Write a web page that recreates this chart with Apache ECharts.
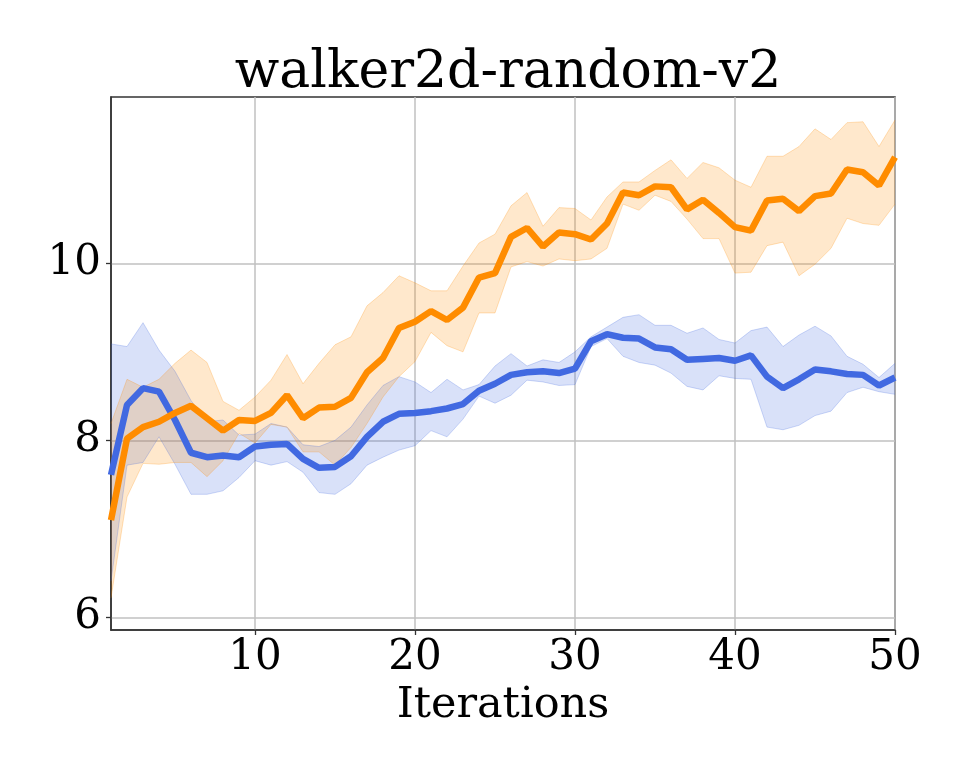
<!DOCTYPE html>
<html>
<head>
<meta charset="utf-8">
<title>walker2d-random-v2</title>
<script src="https://cdn.jsdelivr.net/npm/echarts@6/dist/echarts.min.js"></script>
<style>
  html, body { margin: 0; padding: 0; background: #fff; }
  #chart { width: 969px; height: 775px; }
</style>
</head>
<body>
<div id="chart"></div>
<script>
// iterations on the x axis
const iterations = [1, 2, 3, 4, 5, 6, 7, 8, 9, 10, 11, 12, 13, 14, 15, 16, 17, 18, 19, 20,
  21, 22, 23, 24, 25, 26, 27, 28, 29, 30, 31, 32, 33, 34, 35, 36, 37, 38, 39, 40,
  41, 42, 43, 44, 45, 46, 47, 48, 49, 50];
const xTickLabels = [10, 20, 30, 40, 50];
const yTickLabels = [6, 8, 10];

// blue run: mean and shaded band
const blueMean = [7.61, 8.40, 8.59, 8.55, 8.23, 7.86, 7.81, 7.83, 7.81, 7.93,
  7.95, 7.96, 7.79, 7.69, 7.70, 7.82, 8.04, 8.21, 8.30, 8.31,
  8.33, 8.36, 8.41, 8.56, 8.64, 8.74, 8.77, 8.78, 8.76, 8.81,
  9.12, 9.20, 9.16, 9.15, 9.05, 9.03, 8.91, 8.92, 8.93, 8.90,
  8.96, 8.72, 8.59, 8.69, 8.80, 8.78, 8.75, 8.74, 8.62, 8.71];
const blueUpper = [9.09, 9.06, 9.33, 9.02, 8.78, 8.45, 8.21, 8.23, 8.06, 8.07,
  8.19, 8.15, 7.95, 7.93, 8.00, 8.15, 8.40, 8.62, 8.72, 8.66,
  8.54, 8.69, 8.57, 8.63, 8.84, 8.98, 8.84, 8.91, 8.88, 9.00,
  9.17, 9.28, 9.39, 9.42, 9.30, 9.30, 9.21, 9.27, 9.14, 9.10,
  9.24, 9.28, 9.06, 9.19, 9.29, 9.18, 8.95, 8.86, 8.71, 8.87];
const blueLower = [6.41, 7.72, 7.75, 8.04, 7.73, 7.39, 7.39, 7.43, 7.58, 7.77,
  7.72, 7.76, 7.64, 7.41, 7.39, 7.51, 7.72, 7.81, 7.89, 7.94,
  8.11, 8.04, 8.24, 8.50, 8.42, 8.51, 8.68, 8.66, 8.62, 8.63,
  9.06, 9.15, 8.95, 8.88, 8.85, 8.76, 8.61, 8.57, 8.73, 8.70,
  8.69, 8.15, 8.12, 8.17, 8.28, 8.33, 8.54, 8.60, 8.55, 8.52];

// orange run: mean and shaded band
const orangeMean = [7.10, 8.02, 8.15, 8.21, 8.31, 8.39, 8.25, 8.11, 8.23, 8.22,
  8.31, 8.51, 8.25, 8.37, 8.38, 8.48, 8.77, 8.93, 9.27, 9.34,
  9.46, 9.36, 9.50, 9.84, 9.89, 10.30, 10.40, 10.19, 10.35, 10.33,
  10.27, 10.45, 10.80, 10.77, 10.87, 10.86, 10.61, 10.72, 10.57, 10.41,
  10.37, 10.71, 10.73, 10.59, 10.76, 10.79, 11.06, 11.03, 10.88, 11.20];
const orangeUpper = [8.19, 8.69, 8.60, 8.69, 8.87, 9.02, 8.88, 8.44, 8.34, 8.49,
  8.68, 8.97, 8.64, 8.87, 9.08, 9.17, 9.52, 9.67, 9.86, 9.78,
  9.69, 9.69, 9.97, 10.23, 10.33, 10.65, 10.80, 10.42, 10.63, 10.62,
  10.49, 10.75, 10.92, 10.92, 11.05, 11.17, 10.96, 11.14, 11.08, 10.94,
  10.86, 11.21, 11.21, 11.32, 11.52, 11.40, 11.59, 11.60, 11.32, 11.62];
const orangeLower = [6.22, 7.36, 7.74, 7.73, 7.75, 7.75, 7.59, 7.77, 8.08, 7.97,
  8.18, 8.15, 7.87, 7.87, 7.72, 7.92, 8.19, 8.49, 8.72, 8.89,
  9.22, 9.07, 9.00, 9.44, 9.44, 9.96, 10.02, 9.97, 10.05, 10.03,
  10.05, 10.17, 10.67, 10.60, 10.77, 10.70, 10.50, 10.28, 10.28, 9.89,
  9.90, 10.20, 10.24, 9.86, 9.99, 10.17, 10.51, 10.45, 10.43, 10.67];

const BLUE = '#4169E1';
const ORANGE = '#FF8C00';
const FONT = 'DejaVu Serif';

// band = invisible lower series + stacked (upper - lower) with fill
function band(name, lower, upper, color) {
  return [
    {
      name: name + '-lower', type: 'line', stack: name, data: lower,
      symbol: 'none', silent: true,
      lineStyle: { color: color, width: 1, opacity: 0.25 }
    },
    {
      name: name + '-band', type: 'line', stack: name,
      data: upper.map((u, i) => +(u - lower[i]).toFixed(3)),
      symbol: 'none', silent: true,
      lineStyle: { color: color, width: 1, opacity: 0.25 },
      areaStyle: { color: color, opacity: 0.2 }
    }
  ];
}

const showTick = (idx, val) => xTickLabels.indexOf(Number(val)) >= 0;

const chart = echarts.init(document.getElementById('chart'), null, { renderer: 'canvas' });
chart.setOption({
  animation: false,
  backgroundColor: '#fff',
  title: {
    text: 'walker2d-random-v2',
    left: 503, top: 42, textAlign: 'center',
    textStyle: { fontFamily: FONT, fontSize: 52, fontWeight: 'normal', color: '#000' }
  },
  grid: {
    left: 111, right: 74, top: 97, bottom: 145,
    show: true, borderColor: '#333', borderWidth: 1.5, backgroundColor: 'transparent'
  },
  xAxis: {
    type: 'category',
    data: iterations,
    boundaryGap: false,
    name: 'Iterations',
    nameLocation: 'middle',
    nameGap: 54,
    nameTextStyle: { fontFamily: FONT, fontSize: 43, color: '#000' },
    axisLine: { lineStyle: { color: '#333', width: 1.5 } },
    axisTick: { show: true, interval: showTick, length: 5, lineStyle: { color: '#333', width: 1.3 } },
    axisLabel: { interval: showTick, margin: 7, fontFamily: FONT, fontSize: 42, color: '#000' },
    splitLine: { show: true, interval: showTick, lineStyle: { color: '#c0c0c0', width: 1.5 } }
  },
  yAxis: {
    type: 'value',
    min: 5.857,
    max: 11.88,
    splitNumber: 3,
    axisLine: { show: true, lineStyle: { color: '#333', width: 1.5 } },
    axisTick: { show: true, length: 5, customValues: yTickLabels, lineStyle: { color: '#333', width: 1.3 } },
    axisLabel: {
      customValues: yTickLabels,
      margin: 10, fontFamily: FONT, fontSize: 42, color: '#000'
    },
    splitLine: { show: true, lineStyle: { color: '#c0c0c0', width: 1.5 } }
  },
  series: [
    ...band('blue', blueLower, blueUpper, BLUE),
    ...band('orange', orangeLower, orangeUpper, ORANGE),
    {
      name: 'blue', type: 'line', data: blueMean, symbol: 'none',
      lineStyle: { color: BLUE, width: 6.5 }
    },
    {
      name: 'orange', type: 'line', data: orangeMean, symbol: 'none',
      lineStyle: { color: ORANGE, width: 6.5 }
    }
  ]
});
</script>
</body>
</html>
